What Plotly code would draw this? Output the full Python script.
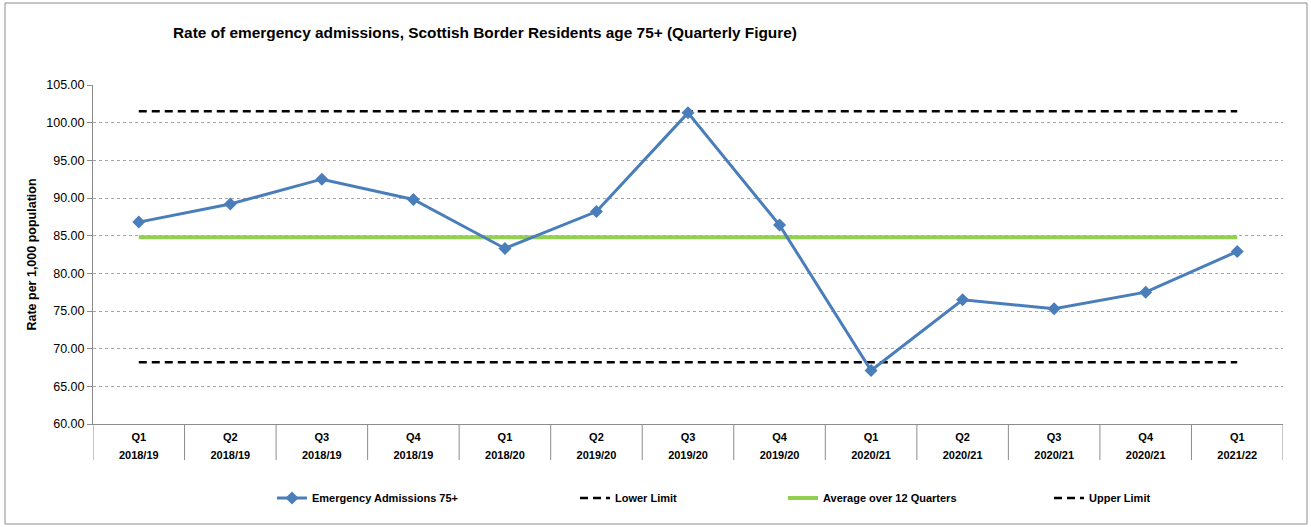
import plotly.graph_objects as go

quarters = ["Q1", "Q2", "Q3", "Q4", "Q1", "Q2", "Q3", "Q4", "Q1", "Q2", "Q3", "Q4", "Q1"]
years = ["2018/19", "2018/19", "2018/19", "2018/19", "2018/20", "2019/20", "2019/20",
         "2019/20", "2020/21", "2020/21", "2020/21", "2020/21", "2021/22"]
admissions = [86.8, 89.2, 92.5, 89.8, 83.3, 88.2, 101.3, 86.4, 67.1, 76.5, 75.3, 77.5, 82.9]
lower_limit = [68.2] * 13
average = [84.8] * 13
upper_limit = [101.5] * 13

cat_ids = list(range(len(quarters)))

FONT = "Arial, Liberation Sans, sans-serif"
W, H = 1311, 527
ML, MR, MT, MB = 93, 28, 85, 103
PH = H - MT - MB
PW = W - ML - MR

fig = go.Figure()
fig.add_trace(go.Scatter(
    x=cat_ids, y=lower_limit, mode="lines", name="Lower Limit",
    line=dict(color="black", width=2.5, dash="8px,5px"), legend="legend2"))
fig.add_trace(go.Scatter(
    x=cat_ids, y=average, mode="lines", name="Average over 12 Quarters",
    line=dict(color="#92D050", width=4), legend="legend3"))
fig.add_trace(go.Scatter(
    x=cat_ids, y=upper_limit, mode="lines", name="Upper Limit",
    line=dict(color="black", width=2.5, dash="8px,5px"), legend="legend4"))
fig.add_trace(go.Scatter(
    x=cat_ids, y=admissions, mode="lines+markers", name="Emergency Admissions 75+",
    line=dict(color="#4A7EBB", width=3),
    marker=dict(symbol="diamond", size=10, color="#4A7EBB"),
    legend="legend", showlegend=True))
# invisible trace to carry the second (year) category axis
fig.add_trace(go.Scatter(x=cat_ids, y=[None] * len(cat_ids), xaxis="x2", mode="lines",
                         showlegend=False, hoverinfo="skip"))

legend_common = dict(orientation="h", xref="container", yref="container",
                     y=1 - 498 / H, yanchor="middle", xanchor="left",
                     font=dict(family=FONT, size=11, color="black", weight="bold"),
                     bgcolor="rgba(0,0,0,0)")
fig.update_layout(
    width=W, height=H,
    margin=dict(l=ML, r=MR, t=MT, b=MB),
    paper_bgcolor="white", plot_bgcolor="white",
    font=dict(family=FONT, color="black"),
    title=dict(text="<b>Rate of emergency admissions, Scottish Border Residents age 75+ (Quarterly Figure)</b>",
               xref="container", yref="container", x=173 / W, xanchor="left",
               y=1 - 33 / H, yanchor="middle",
               font=dict(family=FONT, size=15.4, color="black")),
    legend=dict(x=272 / W, **legend_common),
    legend2=dict(x=575 / W, **legend_common),
    legend3=dict(x=783 / W, **legend_common),
    legend4=dict(x=1049 / W, **legend_common),
    xaxis=dict(
        tickmode="array", tickvals=cat_ids, ticktext=[f"<b>{q}</b>" for q in quarters],
        range=[-0.5, 12.5], showgrid=False, zeroline=False,
        showline=True, linecolor="#8C8C8C", linewidth=1,
        ticks="", ticklabelstandoff=3,
        tickfont=dict(family=FONT, size=11, color="black"),
        fixedrange=True),
    xaxis2=dict(
        overlaying="x", anchor="y", side="bottom",
        tickmode="array", tickvals=cat_ids, ticktext=[f"<b>{y}</b>" for y in years],
        range=[-0.5, 12.5], showgrid=False, zeroline=False, showline=False,
        ticks="", ticklabelstandoff=23,
        tickfont=dict(family=FONT, size=11, color="black"),
        fixedrange=True),
    yaxis=dict(
        range=[60, 105], dtick=5, tickformat=".2f",
        showgrid=True, gridcolor="#A6A6A6", griddash="dot", gridwidth=1,
        zeroline=False, showline=True, linecolor="#8C8C8C", linewidth=1,
        ticks="outside", ticklen=5, tickcolor="#8C8C8C",
        tickfont=dict(family=FONT, size=12.5, color="black"),
        title=dict(text="<b>Rate per 1,000 population</b>", standoff=6,
                   font=dict(family=FONT, size=12.5, color="black"))),
)

# category boundary tick lines below the axis (Excel style)
for i in range(len(cat_ids) + 1):
    fig.add_shape(type="line", xref="x", yref="paper", x0=i - 0.5, x1=i - 0.5,
                  y0=0, y1=-36 / PH, line=dict(color="#8C8C8C", width=1))

# outer chart border
fig.add_shape(type="rect", xref="paper", yref="paper",
              x0=-88 / PW, x1=1 + 24 / PW,
              y0=-100 / PH, y1=1 + 82 / PH,
              line=dict(color="#8C8C8C", width=1))

fig.write_html("out.html")
